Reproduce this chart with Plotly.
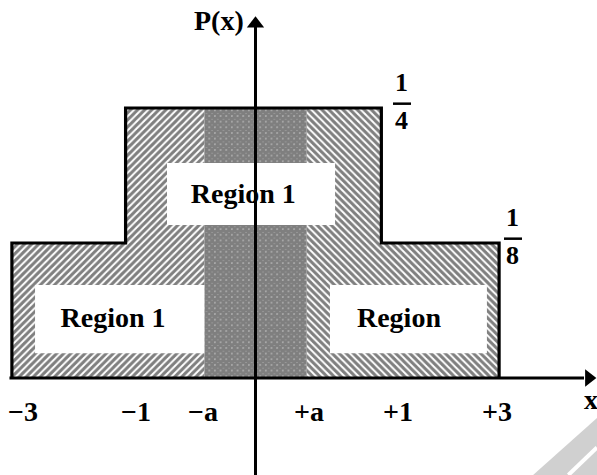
import plotly.graph_objects as go

# Piecewise-constant density P(x): 1/8 on the outer steps, 1/4 in the middle
edge_labels = ["−3", "−1", "−a", "+a", "+1", "+3"]
edge_pos = [-3.0, -1.6, -0.63, 0.63, 1.55, 3.0]   # schematic (not-to-scale) positions
level_outer = 1 / 8
level_inner = 1 / 4
level_labels = [("1", "8"), ("1", "4")]

region_texts = ["Region 1", "Region 1", "Region"]

x3m, x1m, xam, xap, x1p, x3p = edge_pos

W, H = 597, 475
KX, X0 = 81.2, 255.5          # px per unit, px of x = 0
KY, Y0 = 1080.0, 378.0        # px per unit, px of y = 0
x_range = [-X0 / KX, (W - X0) / KX]
y_range = [-(H - Y0) / KY, Y0 / KY]

FONT = "Liberation Serif"

fig = go.Figure()

# left hatched part (-3 .. -a)
fig.add_trace(go.Scatter(
    x=[x3m, x3m, x1m, x1m, xam, xam, x3m],
    y=[0, level_outer, level_outer, level_inner, level_inner, 0, 0],
    mode="none", fill="toself", fillcolor="white",
    fillpattern=dict(shape="/", fgcolor="black", bgcolor="white", size=5, solidity=0.6),
    hoverinfo="skip"))

# right hatched part (+a .. +3)
fig.add_trace(go.Scatter(
    x=[xap, xap, x1p, x1p, x3p, x3p, xap],
    y=[0, level_inner, level_inner, level_outer, level_outer, 0, 0],
    mode="none", fill="toself", fillcolor="white",
    fillpattern=dict(shape="\\", fgcolor="black", bgcolor="white", size=5, solidity=0.6),
    hoverinfo="skip"))

# dense cross-hatched central band (-a .. +a)
fig.add_trace(go.Scatter(
    x=[xam, xam, xap, xap, xam],
    y=[0, level_inner, level_inner, 0, 0],
    mode="none", fill="toself", fillcolor="white",
    fillpattern=dict(shape="x", fgcolor="black", bgcolor="white", size=4, solidity=0.95),
    hoverinfo="skip"))

# white label panels: (x_left, x_right, y_bottom, y_top)
panels = [
    (-1.09, 0.98, 0.1417, 0.199),
    (-2.715, xam, 0.023, 0.086),
    (0.917, 2.85, 0.023, 0.086),
]
for xl, xr, yb, yt in panels:
    fig.add_trace(go.Scatter(
        x=[xl, xl, xr, xr, xl], y=[yb, yt, yt, yb, yb],
        mode="none", fill="toself", fillcolor="white", hoverinfo="skip"))

# region captions
fig.add_trace(go.Scatter(
    x=[-0.15, -1.755, 1.767], y=[0.1685, 0.0535, 0.0535],
    mode="text", text=region_texts, textposition="middle center",
    textfont=dict(family=FONT, size=28, color="black", weight="bold"),
    hoverinfo="skip"))

# step outline of P(x)
fig.add_trace(go.Scatter(
    x=[x3m, x3m, x1m, x1m, x1p, x1p, x3p, x3p],
    y=[0, level_outer, level_outer, level_inner, level_inner, level_outer, level_outer, 0],
    mode="lines", line=dict(color="black", width=3.2), hoverinfo="skip"))

# coordinate axes with arrow heads
fig.add_trace(go.Scatter(
    x=[x3m - 0.03, x_range[1] - 0.16], y=[0, 0],
    mode="lines", line=dict(color="black", width=3), hoverinfo="skip"))
fig.add_trace(go.Scatter(
    x=[0, 0], y=[y_range[0], y_range[1] - 0.025],
    mode="lines", line=dict(color="black", width=3), hoverinfo="skip"))
fig.add_trace(go.Scatter(
    x=[x_range[1] - 0.1], y=[0], mode="markers",
    marker=dict(symbol="triangle-right", size=15, color="black"), hoverinfo="skip"))
fig.add_trace(go.Scatter(
    x=[0], y=[y_range[1] - 0.022], mode="markers",
    marker=dict(symbol="triangle-up", size=15, color="black"), hoverinfo="skip"))

annotations = []
# tick labels on the x axis
tick_shift = [11, 10, -1, 2, 17, -2]
for lab, xp, sh in zip(edge_labels, edge_pos, tick_shift):
    annotations.append(dict(x=xp, y=-0.0306, text=lab, showarrow=False, xshift=sh,
                            font=dict(family=FONT, size=28, color="black", weight="bold"),
                            xanchor="center", yanchor="middle"))

# axis titles
annotations.append(dict(x=0, y=y_range[1], text="P(x)", showarrow=False, xshift=-37, yshift=-20,
                        font=dict(family=FONT, size=28, color="black", weight="bold"),
                        xanchor="center", yanchor="middle"))
annotations.append(dict(x=x_range[1], y=0, text="x", showarrow=False, xshift=-6, yshift=-21,
                        font=dict(family=FONT, size=28, color="black", weight="bold"),
                        xanchor="center", yanchor="middle"))

# fraction labels for the two density levels
shapes = []
frac_x = [3.171, 1.804]
for (num, den), lev, fx in zip(level_labels, [level_outer, level_inner], frac_x):
    ybar = lev + 0.004
    for txt, ysh in [(num, 21), (den, -17)]:
        annotations.append(dict(x=fx, y=ybar, text=txt, showarrow=False, yshift=ysh,
                                font=dict(family=FONT, size=26, color="black", weight="bold"),
                                xanchor="center", yanchor="middle"))
    shapes.append(dict(type="line", xref="x", yref="y",
                       x0=fx - 9 / KX, x1=fx + 9 / KX, y0=ybar, y1=ybar,
                       line=dict(color="black", width=2.5)))

# faint page mark in the lower right corner
shapes.append(dict(type="path", xref="paper", yref="paper", layer="below",
                   path="M 0.893 0 L 1 0.12 L 1 0 Z",
                   fillcolor="#d0d0d0", line=dict(width=0)))
shapes.append(dict(type="line", xref="paper", yref="paper", layer="below",
                   x0=0.952, y0=0, x1=1, y1=0.058,
                   line=dict(color="white", width=4)))

fig.update_layout(
    width=W, height=H,
    margin=dict(l=0, r=0, t=0, b=0),
    paper_bgcolor="white", plot_bgcolor="white",
    showlegend=False,
    xaxis=dict(range=x_range, visible=False, fixedrange=True),
    yaxis=dict(range=y_range, visible=False, fixedrange=True),
    annotations=annotations,
    shapes=shapes,
)

fig.write_html("out.html")
